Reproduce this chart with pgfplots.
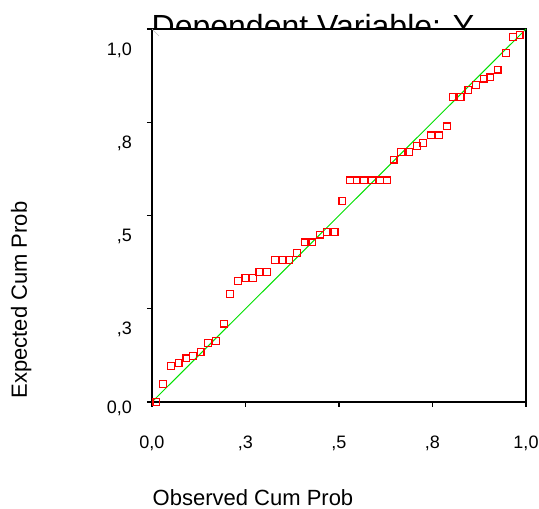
\documentclass[border=0pt]{standalone}
\usepackage{fontspec}
\setmainfont{Liberation Sans}
\usepackage{pgfplots}
\pgfplotsset{compat=1.18}
\definecolor{ppred}{RGB}{255,0,0}
\definecolor{ppgreen}{RGB}{0,225,0}
\begin{document}
\begin{tikzpicture}
\begin{scope}
\clip (-152pt,-107pt) rectangle (387pt,402pt);
% title, partly hidden by the plot area as in the original
\node[anchor=base, font=\fontsize{32}{36}\selectfont] at (161pt,364pt) {Dependent Variable: Y};
\node[anchor=base, rotate=90, font=\fontsize{22}{26}\selectfont] at (-125pt,102pt) {Expected Cum Prob};
\node[anchor=base, font=\fontsize{22}{26}\selectfont] at (101pt,-104pt) {Observed Cum Prob};
\begin{axis}[
  at={(0,0)}, anchor=south west,
  scale only axis, width=374pt, height=373pt,
  xmin=0, xmax=1, ymin=0, ymax=1,
  axis background/.style={fill=white},
  axis line style={line width=1.2pt},
  xtick pos=bottom, ytick pos=left,
  tick align=outside, major tick length=5pt,
  tick style={black, line width=1.2pt},
  xtick={0,0.25,0.5,0.75,1},
  ytick={0,0.25,0.5,0.75,1},
  xticklabels={{0,0},{,3},{,5},{,8},{1,0}},
  yticklabels={{\raisebox{15pt}[\height][\depth]{0,0}},{,3},{,5},{,8},{1,0}},
  xticklabel style={font=\fontsize{18}{20}\selectfont, anchor=center, inner sep=0pt, yshift=-36pt},
  yticklabel style={font=\fontsize{18}{20}\selectfont, anchor=east, inner sep=0pt, xshift=-15pt, yshift=-21pt},
  clip=false,
]
\addplot[ppgreen, line width=1pt] coordinates {(0,0) (1,1)};
\addplot[ppred, only marks, mark=square, mark size=3.4pt, mark options={draw=ppred, line width=1.2pt}] table {
x y
0.012 0.000
0.029 0.048
0.051 0.097
0.071 0.104
0.092 0.117
0.109 0.123
0.130 0.134
0.150 0.158
0.171 0.163
0.192 0.210
0.209 0.290
0.230 0.324
0.250 0.332
0.270 0.332
0.287 0.349
0.308 0.349
0.329 0.380
0.350 0.380
0.367 0.380
0.387 0.400
0.408 0.428
0.429 0.428
0.449 0.449
0.467 0.456
0.488 0.456
0.509 0.539
0.529 0.594
0.547 0.594
0.567 0.594
0.588 0.594
0.609 0.594
0.628 0.594
0.646 0.650
0.666 0.670
0.688 0.670
0.708 0.687
0.725 0.694
0.746 0.715
0.767 0.715
0.788 0.739
0.804 0.818
0.825 0.818
0.846 0.836
0.867 0.850
0.887 0.867
0.905 0.870
0.924 0.891
0.946 0.936
0.966 0.978
0.983 0.984
};
\draw[gray!50, line width=0.4pt] (rel axis cs:0,1) -- ++(7pt,-7pt);
\end{axis}
\end{scope}
\pgfresetboundingbox
\useasboundingbox (-152pt,-107pt) rectangle (387pt,402pt);
\end{tikzpicture}
\end{document}
